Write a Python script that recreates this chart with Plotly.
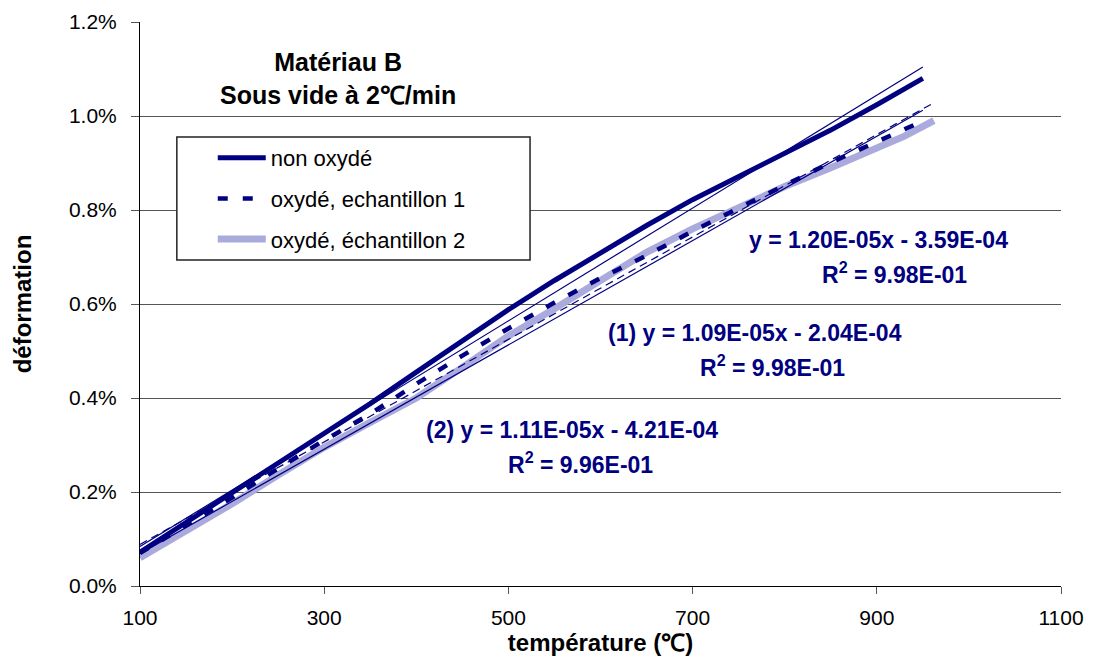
import plotly.graph_objects as go

# ── data (deformation in %) ────
temp_non_ox = [100, 150, 200, 250, 300, 350, 400, 450, 500, 550, 600, 650, 700, 750, 800, 850, 900, 950]
def_non_ox = [0.072, 0.135, 0.198, 0.262, 0.325, 0.388, 0.455, 0.522, 0.588, 0.650, 0.710, 0.767,
              0.822, 0.872, 0.920, 0.970, 1.024, 1.080]

temp_ech1 = [100, 150, 200, 250, 300, 350, 400, 450, 500, 550, 600, 650, 700, 750, 800, 850, 900, 945]
def_ech1 = [0.070, 0.128, 0.188, 0.250, 0.310, 0.366, 0.430, 0.490, 0.548, 0.603, 0.655, 0.703,
            0.755, 0.804, 0.853, 0.901, 0.945, 0.985]

temp_ech2 = [100, 150, 200, 250, 300, 350, 400, 450, 500, 550, 600, 650, 700, 750, 800, 850, 900, 930, 962]
def_ech2 = [0.060, 0.116, 0.175, 0.236, 0.295, 0.348, 0.400, 0.465, 0.532, 0.590, 0.651, 0.710,
            0.760, 0.806, 0.850, 0.890, 0.930, 0.957, 0.990]

# linear trend lines (slope, intercept, x range) as printed on the chart
trend_non_ox = (1.20e-05, -3.59e-04, [100, 950])
trend_ech1 = (1.09e-05, -2.04e-04, [100, 962])
trend_ech2 = (1.11e-05, -4.21e-04, [100, 950])

y_ticks = [0, 0.002, 0.004, 0.006, 0.008, 0.010, 0.012]
x_ticks = [100, 300, 500, 700, 900, 1100]

NAVY = '#000080'
FONT = 'Liberation Sans, Arial, sans-serif'

fig = go.Figure()

# measured curves
fig.add_trace(go.Scatter(x=temp_ech2, y=[v / 100 for v in def_ech2], mode='lines',
                         name='oxydé, échantillon 2', legendgroup='c', legendrank=3,
                         line=dict(color='#aaaadc', width=7)))
fig.add_trace(go.Scatter(x=temp_ech1, y=[v / 100 for v in def_ech1], mode='lines',
                         name='oxydé, echantillon 1', legendgroup='b', legendrank=2,
                         line=dict(color=NAVY, width=4.5, dash='10px,15px')))
fig.add_trace(go.Scatter(x=temp_non_ox, y=[v / 100 for v in def_non_ox], mode='lines',
                         name='non oxydé', legendgroup='a', legendrank=1,
                         line=dict(color=NAVY, width=5)))

# trend lines
for (a, b, xs), dash in [(trend_non_ox, 'solid'), (trend_ech1, '8px,5px'), (trend_ech2, 'solid')]:
    fig.add_trace(go.Scatter(x=xs, y=[a * x + b for x in xs], mode='lines', showlegend=False,
                             line=dict(color=NAVY, width=1.2, dash=dash), hoverinfo='skip'))

# trendline equations
eq_style = dict(size=23, color=NAVY, family=FONT)
equations = [
    ('<b>y = 1.20E-05x - 3.59E-04</b>', 0.802, 0.613),
    ('<b>R<sup>2</sup> = 9.98E-01</b>', 0.819, 0.555),
    ('<b>(1) y = 1.09E-05x - 2.04E-04</b>', 0.668, 0.449),
    ('<b>R<sup>2</sup> = 9.98E-01</b>', 0.687, 0.390),
    ('<b>(2) y = 1.11E-05x - 4.21E-04</b>', 0.469, 0.277),
    ('<b>R<sup>2</sup> = 9.96E-01</b>', 0.478, 0.218),
]
for txt, x, y in equations:
    fig.add_annotation(text=txt, xref='paper', yref='paper', x=x, y=y,
                       showarrow=False, font=eq_style, xanchor='center', yanchor='middle')

# title block
fig.add_annotation(text='<b>Matériau B</b><br><b>Sous vide à 2℃/min</b>', xref='paper', yref='paper',
                   x=0.215, y=0.899, showarrow=False, xanchor='center', yanchor='middle',
                   align='center', font=dict(size=25, color='black', family=FONT))

# legend frame
fig.add_shape(type='rect', xref='paper', yref='paper', x0=0.040, x1=0.4235, y0=0.578, y1=0.796,
              fillcolor='white', line=dict(color='#222222', width=1.5), layer='above')

fig.update_layout(
    width=1085, height=662,
    plot_bgcolor='white', paper_bgcolor='white',
    font=dict(family=FONT, size=21, color='black'),
    margin=dict(l=132, r=32, t=14, b=84),
    showlegend=True,
    legend=dict(x=0.079, y=0.796, xanchor='left', yanchor='top',
                bgcolor='rgba(0,0,0,0)', borderwidth=0,
                font=dict(size=22, family=FONT), tracegroupgap=9, itemwidth=48),
    xaxis=dict(range=[100, 1100], tickvals=x_ticks, automargin=False,
               showgrid=False, zeroline=False, showline=True, linecolor='black', linewidth=1,
               ticks='outside', ticklen=7, tickcolor='#555555', ticklabelstandoff=6,
               title=dict(text='<b>température (℃)</b>', font=dict(size=24), standoff=4)),
    yaxis=dict(range=[0, 0.012], tickvals=y_ticks, automargin=False,
               tickformat='.1%', showgrid=True, gridcolor='#555555', gridwidth=1,
               zeroline=False, showline=True, linecolor='black', linewidth=1,
               ticks='outside', ticklen=8, tickcolor='#555555', ticklabelstandoff=10,
               title=dict(text='<b>déformation</b>', font=dict(size=24), standoff=30)),
)

fig.write_html("out.html")
